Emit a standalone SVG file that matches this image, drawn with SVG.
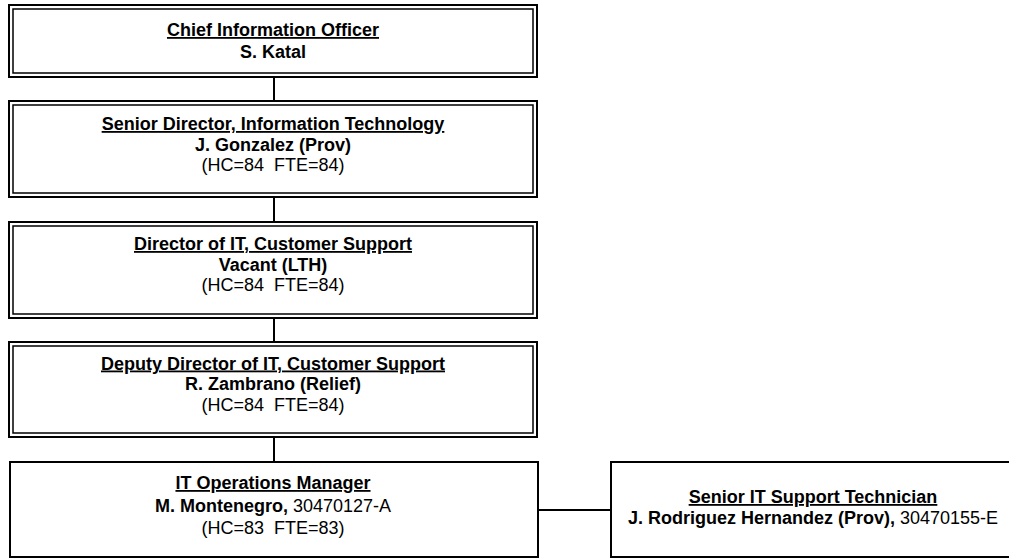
<svg xmlns="http://www.w3.org/2000/svg" width="1009" height="558" viewBox="0 0 1009 558">
<style>
.o{fill:#fff;stroke:#000;stroke-width:2}
.i{fill:none;stroke:#000;stroke-width:1.5}
.s{fill:#fff;stroke:#000;stroke-width:2}
.c{stroke:#000;stroke-width:2;fill:none}
text{font-family:"Liberation Sans",Arial,sans-serif;font-size:18px;text-anchor:middle;fill:#000}
.t{font-weight:bold;text-decoration:underline}
.b{font-weight:bold}
</style>
<rect width="1009" height="558" fill="#fff"/>
<g id="connectors">
<line class="c" x1="274" y1="77" x2="274" y2="101"/>
<line class="c" x1="274" y1="197" x2="274" y2="222"/>
<line class="c" x1="274" y1="318" x2="274" y2="342"/>
<line class="c" x1="274" y1="437" x2="274" y2="558"/>
<line class="c" x1="538" y1="510" x2="611" y2="510"/>
</g>
<g id="cio">
<rect class="o" x="9" y="5" width="528" height="72"/>
<rect class="i" x="13" y="9" width="520" height="64"/>
<text class="t" x="273" y="36">Chief Information Officer</text>
<text class="b" x="273" y="58">S. Katal</text>
</g>
<g id="senior-director">
<rect class="o" x="9" y="101" width="528" height="96"/>
<rect class="i" x="13" y="105" width="520" height="88"/>
<text class="t" x="273" y="130">Senior Director, Information Technology</text>
<text class="b" x="273" y="150.5">J. Gonzalez (Prov)</text>
<text x="273" y="171" xml:space="preserve">(HC=84  FTE=84)</text>
</g>
<g id="director">
<rect class="o" x="9" y="222" width="528" height="96"/>
<rect class="i" x="13" y="226" width="520" height="88"/>
<text class="t" x="273" y="250">Director of IT, Customer Support</text>
<text class="b" x="273" y="270.5">Vacant (LTH)</text>
<text x="273" y="291" xml:space="preserve">(HC=84  FTE=84)</text>
</g>
<g id="deputy-director">
<rect class="o" x="9" y="342" width="528" height="95"/>
<rect class="i" x="13" y="346" width="520" height="87"/>
<text class="t" x="273" y="369.5">Deputy Director of IT, Customer Support</text>
<text class="b" x="273" y="390">R. Zambrano (Relief)</text>
<text x="273" y="410.5" xml:space="preserve">(HC=84  FTE=84)</text>
</g>
<g id="it-ops-manager">
<rect class="s" x="10" y="462" width="528" height="95"/>
<text class="t" x="273" y="489">IT Operations Manager</text>
<text x="273" y="511.5" xml:space="preserve"><tspan class="b">M. Montenegro,</tspan> 30470127-A</text>
<text x="273" y="534" xml:space="preserve">(HC=83  FTE=83)</text>
</g>
<g id="senior-it-support">
<rect class="s" x="611" y="462" width="410" height="95"/>
<text class="t" x="813" y="503">Senior IT Support Technician</text>
<text x="813" y="524" xml:space="preserve"><tspan class="b">J. Rodriguez Hernandez (Prov),</tspan> 30470155-E</text>
</g>
</svg>
